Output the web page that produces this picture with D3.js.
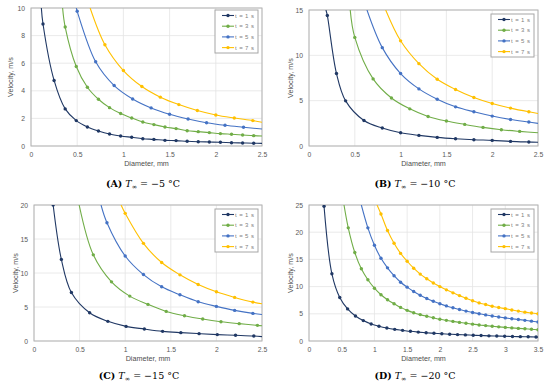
<!DOCTYPE html>
<html>
<head>
<meta charset="utf-8">
<script src="https://cdn.jsdelivr.net/npm/d3@7"></script>
<style>
  body { margin: 0; background: #fff; }
  svg { display: block; }
  .tick text { font-family: "Liberation Sans", Arial, sans-serif; }
</style>
</head>
<body>
<div id="chart"></div>
<script>
// Four panels: velocity vs. diameter at four air temperatures
const seriesNames = ['t = 1 s', 't = 3 s', 't = 5 s', 't = 7 s'];
const seriesColors = ['#203864', '#70ad47', '#4472c4', '#ffc000'];
const panelLetters = ['A', 'B', 'C', 'D'];
const panelTemps = ['\u22125', '\u221210', '\u221215', '\u221220'];
const xMaxes = [2.5, 2.5, 2.5, 3.5];
const xTicks = [0, 0.5, 1, 1.5, 2, 2.5, 3, 3.5];
const yTicksA = [0, 2, 4, 6, 8, 10];
const yTicksB = [0, 5, 10, 15];
const yTicksC = [0, 5, 10, 15, 20];
const yTicksD = [0, 5, 10, 15, 20, 25];

// markers: [diameter, velocity]
const markersA = [
  [[0.13, 8.84], [0.25, 4.75], [0.37, 2.69], [0.49, 1.84], [0.61, 1.38], [0.73, 1.09], [0.85, 0.87], [0.97, 0.73], [1.09, 0.63], [1.21, 0.53], [1.33, 0.48], [1.45, 0.41], [1.57, 0.39], [1.69, 0.34], [1.81, 0.31], [1.93, 0.29], [2.05, 0.27], [2.17, 0.24], [2.29, 0.22], [2.41, 0.2]],
  [[0.37, 8.62], [0.49, 5.76], [0.61, 4.26], [0.73, 3.39], [0.85, 2.78], [0.97, 2.35], [1.09, 2.03], [1.21, 1.74], [1.33, 1.55], [1.45, 1.38], [1.57, 1.26], [1.69, 1.11], [1.81, 1.04], [1.93, 0.97], [2.05, 0.9], [2.17, 0.85], [2.29, 0.8], [2.41, 0.75]],
  [[0.5, 9.76], [0.7, 6.1], [0.9, 4.38], [1.1, 3.41], [1.3, 2.76], [1.5, 2.3], [1.7, 1.96], [1.9, 1.69], [2.1, 1.5], [2.3, 1.36]],
  [[0.8, 7.34], [1.0, 5.47], [1.2, 4.31], [1.4, 3.54], [1.6, 3.0], [1.8, 2.57], [2.0, 2.25], [2.2, 2.03], [2.4, 1.84]]
];
const markersB = [
  [[0.2, 14.4], [0.3, 8.0], [0.4, 4.98], [0.6, 2.82], [0.8, 1.98], [1.0, 1.46], [1.2, 1.17], [1.4, 0.95], [1.6, 0.8], [1.8, 0.69], [2.0, 0.62], [2.2, 0.51], [2.4, 0.44]],
  [[0.5, 11.98], [0.7, 7.4], [0.9, 5.3], [1.1, 4.1], [1.3, 3.26], [1.5, 2.75], [1.7, 2.38], [1.9, 2.05], [2.1, 1.79], [2.3, 1.61]],
  [[0.8, 10.85], [1.0, 7.99], [1.2, 6.3], [1.4, 5.16], [1.6, 4.32], [1.8, 3.77], [2.0, 3.3], [2.2, 2.93], [2.4, 2.64]],
  [[1.0, 11.6], [1.2, 9.08], [1.4, 7.36], [1.6, 6.23], [1.8, 5.35], [2.0, 4.69], [2.2, 4.18], [2.4, 3.77]]
];
const markersC = [
  [[0.21, 20.0], [0.3, 12.0], [0.41, 7.14], [0.61, 4.16], [0.81, 2.89], [1.01, 2.15], [1.21, 1.76], [1.41, 1.42], [1.61, 1.23], [1.81, 1.08], [2.01, 0.94], [2.21, 0.84], [2.41, 0.73]],
  [[0.65, 12.67], [0.85, 8.7], [1.05, 6.6], [1.25, 5.38], [1.45, 4.35], [1.65, 3.72], [1.85, 3.23], [2.05, 2.84], [2.25, 2.55], [2.45, 2.3]],
  [[0.8, 17.4], [1.0, 12.5], [1.2, 9.77], [1.4, 7.97], [1.6, 6.8], [1.8, 5.78], [2.0, 5.09], [2.2, 4.5], [2.4, 4.06]],
  [[1.0, 18.77], [1.2, 14.36], [1.4, 11.54], [1.6, 9.73], [1.8, 8.31], [2.0, 7.24], [2.2, 6.41], [2.4, 5.72]]
];
const markersD = [
  [[0.23, 24.75], [0.35, 12.35], [0.47, 8.0], [0.59, 5.9], [0.71, 4.6], [0.83, 3.75], [0.95, 3.12], [1.07, 2.7], [1.19, 2.38], [1.31, 2.14], [1.43, 1.96], [1.55, 1.78], [1.67, 1.64], [1.79, 1.52], [1.91, 1.42], [2.03, 1.33], [2.15, 1.25], [2.27, 1.18], [2.39, 1.12], [2.51, 1.06], [2.63, 1.0], [2.75, 0.95], [2.87, 0.91], [2.99, 0.87], [3.11, 0.83], [3.23, 0.8], [3.35, 0.77], [3.47, 0.74]],
  [[0.6, 20.8], [0.7, 16.26], [0.8, 13.27], [0.9, 11.25], [1.0, 9.71], [1.1, 8.5], [1.2, 7.59], [1.3, 6.86], [1.4, 6.18], [1.5, 5.63], [1.6, 5.2], [1.7, 4.85], [1.8, 4.55], [1.9, 4.27], [2.0, 4.0], [2.1, 3.8], [2.2, 3.6], [2.3, 3.42], [2.4, 3.25], [2.5, 3.1], [2.6, 2.95], [2.7, 2.83], [2.8, 2.71], [2.9, 2.6], [3.0, 2.5], [3.1, 2.41], [3.2, 2.32], [3.3, 2.24], [3.4, 2.16], [3.5, 2.08]],
  [[0.9, 20.8], [1.0, 17.6], [1.1, 15.2], [1.2, 13.45], [1.3, 12.0], [1.4, 10.8], [1.5, 9.9], [1.6, 9.1], [1.7, 8.4], [1.8, 7.8], [1.9, 7.3], [2.0, 6.85], [2.1, 6.45], [2.2, 6.1], [2.3, 5.8], [2.4, 5.5], [2.5, 5.25], [2.6, 5.0], [2.7, 4.8], [2.8, 4.6], [2.9, 4.42], [3.0, 4.25], [3.1, 4.1], [3.2, 3.95], [3.3, 3.8], [3.4, 3.65], [3.5, 3.5]],
  [[1.1, 23.35], [1.2, 20.3], [1.3, 17.97], [1.4, 16.1], [1.5, 14.66], [1.6, 13.38], [1.7, 12.3], [1.8, 11.45], [1.9, 10.65], [2.0, 10.0], [2.1, 9.4], [2.2, 8.85], [2.3, 8.35], [2.4, 7.85], [2.5, 7.4], [2.6, 7.0], [2.7, 6.7], [2.8, 6.4], [2.9, 6.15], [3.0, 5.95], [3.1, 5.7], [3.2, 5.5], [3.3, 5.3], [3.4, 5.15], [3.5, 5.0]]
];

// where each trend line enters at the top and leaves at the right edge
const lineEndsA = [[[0.112, 10], [2.5, 0.19]], [[0.342, 10], [2.5, 0.73]], [[0.49, 10], [2.5, 1.23]], [[0.64, 10], [2.5, 1.72]]];
const lineEndsB = [[[0.185, 15], [2.5, 0.41]], [[0.45, 15], [2.5, 1.46]], [[0.633, 15], [2.5, 2.49]], [[0.837, 15], [2.5, 3.59]]];
const lineEndsC = [[null, [2.5, 0.64]], [[0.495, 20], [2.5, 2.25]], [[0.735, 20], [2.5, 3.9]], [[0.955, 20], [2.5, 5.48]]];
const lineEndsD = [[null, [3.5, 0.72]], [[0.535, 25], null], [[0.8, 25], null], [[1.04, 25], null]];

const panels = [
  { markers: markersA, ends: lineEndsA, yTicks: yTicksA },
  { markers: markersB, ends: lineEndsB, yTicks: yTicksB },
  { markers: markersC, ends: lineEndsC, yTicks: yTicksC },
  { markers: markersD, ends: lineEndsD, yTicks: yTicksD }
];

// layout of each plot area in page pixels
const boxes = [
  { l: 31, r: 262, t: 8, b: 146, titleX: 10, capX: 143, capY: 186.5, legTop: 10 },
  { l: 309, r: 538, t: 10, b: 146, titleX: 290, capX: 415, capY: 186.5, legTop: 14 },
  { l: 34, r: 262, t: 205, b: 341, titleX: 15, capX: 139, capY: 378.5, legTop: 209 },
  { l: 309, r: 538, t: 205, b: 341, titleX: 290, capX: 415, capY: 378.5, legTop: 209 }
];

const svg = d3.select('#chart').append('svg')
  .attr('width', 550)
  .attr('height', 387);

const textGray = '#595959';

panels.forEach((p, pi) => {
  const bx = boxes[pi];
  const yMax = p.yTicks[p.yTicks.length - 1];
  const x = d3.scaleLinear().domain([0, xMaxes[pi]]).range([bx.l, bx.r]);
  const y = d3.scaleLinear().domain([0, yMax]).range([bx.b, bx.t]);
  const g = svg.append('g');

  const clipId = 'clip' + pi;
  svg.append('clipPath').attr('id', clipId)
    .append('rect')
    .attr('x', bx.l).attr('y', bx.t)
    .attr('width', bx.r - bx.l).attr('height', bx.b - bx.t);

  // gridlines
  const xt = xTicks.filter(d => d <= xMaxes[pi]);
  g.selectAll('.vgrid').data(xt).enter().append('line')
    .attr('x1', d => x(d)).attr('x2', d => x(d))
    .attr('y1', bx.t).attr('y2', bx.b)
    .attr('stroke', '#e4e4e4').attr('stroke-width', 0.8);
  g.selectAll('.hgrid').data(p.yTicks).enter().append('line')
    .attr('x1', bx.l).attr('x2', bx.r)
    .attr('y1', d => y(d)).attr('y2', d => y(d))
    .attr('stroke', '#e4e4e4').attr('stroke-width', 0.8);

  // plot frame
  g.append('rect')
    .attr('x', bx.l).attr('y', bx.t)
    .attr('width', bx.r - bx.l).attr('height', bx.b - bx.t)
    .attr('fill', 'none').attr('stroke', '#b3b3b3').attr('stroke-width', 1);

  // axes (labels only)
  const xAxis = g.append('g')
    .attr('transform', `translate(0,${bx.b})`)
    .call(d3.axisBottom(x).tickValues(xt).tickSize(0).tickPadding(6).tickFormat(d3.format('')));
  const yAxis = g.append('g')
    .attr('transform', `translate(${bx.l},0)`)
    .call(d3.axisLeft(y).tickValues(p.yTicks).tickSize(0).tickPadding(6));
  [xAxis, yAxis].forEach(a => {
    a.select('.domain').remove();
    a.selectAll('text').attr('fill', textGray).style('font-size', '6.8px');
  });

  // axis titles
  g.append('text')
    .attr('x', (bx.l + bx.r) / 2).attr('y', bx.b + 20)
    .attr('text-anchor', 'middle')
    .attr('fill', '#4d4d4d')
    .style('font-family', '"Liberation Sans", Arial, sans-serif')
    .style('font-size', '7.2px')
    .text('Diameter, mm');
  g.append('text')
    .attr('transform', `translate(${bx.titleX},${(bx.t + bx.b) / 2}) rotate(-90)`)
    .attr('text-anchor', 'middle')
    .attr('dy', '0.35em')
    .attr('fill', '#4d4d4d')
    .style('font-family', '"Liberation Sans", Arial, sans-serif')
    .style('font-size', '7.2px')
    .text('Velocity, m/s');

  // series
  const line = d3.line()
    .x(d => x(d[0])).y(d => y(d[1]))
    .curve(d3.curveCatmullRom.alpha(0.5));
  const plot = g.append('g').attr('clip-path', `url(#${clipId})`);
  p.markers.forEach((pts, si) => {
    const ends = p.ends[si];
    const linePts = [];
    if (ends[0]) linePts.push(ends[0]);
    pts.forEach(d => linePts.push(d));
    if (ends[1]) linePts.push(ends[1]);
    plot.append('path')
      .datum(linePts)
      .attr('d', line)
      .attr('fill', 'none')
      .attr('stroke', seriesColors[si])
      .attr('stroke-width', 1.1);
    plot.selectAll('.m' + si).data(pts).enter().append('circle')
      .attr('cx', d => x(d[0])).attr('cy', d => y(d[1]))
      .attr('r', 1.7)
      .attr('fill', seriesColors[si]);
  });

  // legend
  const lw = 43, lh = 43;
  const lx = bx.r - 4 - lw, ly = bx.legTop;
  const leg = g.append('g');
  leg.append('rect')
    .attr('x', lx).attr('y', ly).attr('width', lw).attr('height', lh)
    .attr('fill', '#fff').attr('stroke', '#a6a6a6').attr('stroke-width', 1);
  seriesNames.forEach((name, si) => {
    const yy = ly + 5.5 + si * 10.7;
    leg.append('line')
      .attr('x1', lx + 7).attr('x2', lx + 19)
      .attr('y1', yy).attr('y2', yy)
      .attr('stroke', seriesColors[si]).attr('stroke-width', 1.1);
    leg.append('circle')
      .attr('cx', lx + 13).attr('cy', yy).attr('r', 1.7)
      .attr('fill', seriesColors[si]);
    leg.append('text')
      .attr('x', lx + 20).attr('y', yy).attr('dy', '0.35em')
      .attr('fill', '#7f7f7f')
      .style('font-family', '"Liberation Sans", Arial, sans-serif')
      .style('font-size', '6px')
      .style('letter-spacing', '0.4px')
      .text(name);
  });

  // caption
  const cap = svg.append('text')
    .attr('x', bx.capX).attr('y', bx.capY)
    .attr('text-anchor', 'middle')
    .attr('fill', '#000')
    .style('font-family', '"DejaVu Serif", "Liberation Serif", serif')
    .style('font-size', '9.5px');
  cap.append('tspan').style('font-weight', 'bold').text(`(${panelLetters[pi]})`);
  cap.append('tspan').text(' ');
  cap.append('tspan').style('font-style', 'italic').text('T');
  cap.append('tspan').attr('dy', 2).style('font-size', '6.5px').text('\u221e');
  cap.append('tspan').attr('dy', -2).text(` = ${panelTemps[pi]} \u00b0C`);
});
</script>
</body>
</html>
